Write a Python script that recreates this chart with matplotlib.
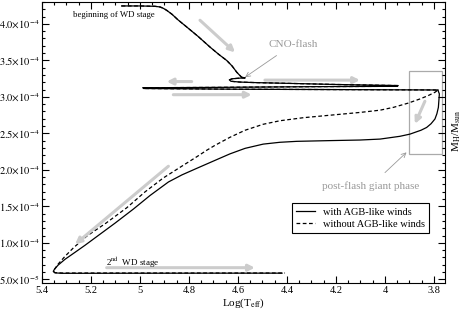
import matplotlib
matplotlib.use("Agg")
import matplotlib.pyplot as plt
from matplotlib.ticker import MultipleLocator, FuncFormatter
from matplotlib.patches import Rectangle
import numpy as np

plt.rcParams['font.family'] = ['Liberation Serif', 'DejaVu Serif']
plt.rcParams['mathtext.fontset'] = 'stix'

# common track: WD cooling start, CNO flash, back-and-forth band, up to giant vertex
flash_logT = [5.075, 5.00, 4.939, 4.918, 4.905, 4.891, 4.869, 4.845, 4.809, 4.763,
              4.714, 4.678, 4.646, 4.624, 4.605, 4.594, 4.585, 4.571, 4.592, 4.624,
              4.635, 4.629, 4.592, 4.531, 4.20, 3.946, 3.95, 4.30, 4.70, 4.988,
              4.985, 4.60, 4.20, 3.80, 3.784]
flash_mh = [4.246e-4, 4.246e-4, 4.241e-4, 4.232e-4, 4.214e-4, 4.186e-4, 4.131e-4,
            4.056e-4, 3.957e-4, 3.829e-4, 3.682e-4, 3.581e-4, 3.499e-4, 3.423e-4,
            3.338e-4, 3.299e-4, 3.269e-4, 3.261e-4, 3.257e-4, 3.248e-4, 3.233e-4,
            3.214e-4, 3.203e-4, 3.196e-4, 3.17e-4, 3.155e-4, 3.145e-4, 3.14e-4,
            3.13e-4, 3.125e-4, 3.115e-4, 3.105e-4, 3.10e-4, 3.095e-4, 3.093e-4]

# with AGB-like winds (after vertex)
wind_logT = [3.784, 3.778, 3.780, 3.782, 3.788, 3.796, 3.812, 3.830, 3.853, 3.871,
             3.898, 3.939, 4.020, 4.102, 4.224, 4.360, 4.429, 4.497, 4.571, 4.633,
             4.694, 4.769, 4.829, 4.884, 4.959, 5.027, 5.102, 5.163, 5.224, 5.265,
             5.306, 5.335, 5.349, 5.354, 5.347, 5.318, 5.0, 4.7, 4.42]
wind_mh = [3.093e-4, 3.041e-4, 2.948e-4, 2.856e-4, 2.770e-4, 2.697e-4, 2.632e-4,
           2.581e-4, 2.543e-4, 2.522e-4, 2.490e-4, 2.460e-4, 2.422e-4, 2.409e-4,
           2.401e-4, 2.391e-4, 2.378e-4, 2.353e-4, 2.295e-4, 2.219e-4, 2.130e-4,
           2.020e-4, 1.931e-4, 1.834e-4, 1.649e-4, 1.463e-4, 1.270e-4, 1.119e-4,
           9.68e-5, 8.71e-5, 7.75e-5, 6.93e-5, 6.38e-5, 6.10e-5, 5.89e-5, 5.83e-5,
           5.84e-5, 5.85e-5, 5.85e-5]

# without AGB-like winds (after vertex)
nowind_logT = [3.784, 3.796, 3.824, 3.857, 3.906, 3.966, 4.020, 4.102, 4.224, 4.333,
               4.429, 4.497, 4.571, 4.633, 4.694, 4.728, 4.769, 4.837, 4.905, 4.980,
               5.054, 5.139, 5.218, 5.272, 5.306, 5.335, 5.349, 5.354, 5.347, 5.318,
               5.0, 4.7, 4.408]
nowind_mh = [3.093e-4, 3.063e-4, 3.017e-4, 2.972e-4, 2.914e-4, 2.856e-4, 2.818e-4,
             2.787e-4, 2.749e-4, 2.715e-4, 2.673e-4, 2.625e-4, 2.543e-4, 2.446e-4,
             2.336e-4, 2.268e-4, 2.178e-4, 2.034e-4, 1.889e-4, 1.697e-4, 1.481e-4,
             1.270e-4, 1.091e-4, 9.31e-5, 8.16e-5, 7.06e-5, 6.38e-5, 6.10e-5,
             5.92e-5, 5.87e-5, 5.87e-5, 5.87e-5, 5.87e-5]

# gray direction arrows (start, end)
arrows = [((4.755, 4.05e-4), (4.612, 3.61e-4)),
          ((4.789, 3.21e-4), (4.891, 3.21e-4)),
          ((4.864, 3.03e-4), (4.544, 3.03e-4)),
          ((4.490, 3.23e-4), (4.102, 3.23e-4)),
          ((3.837, 2.94e-4), (3.878, 2.63e-4)),
          ((4.884, 2.05e-4), (5.265, 9.8e-5)),
          ((5.136, 6.6e-5), (4.531, 6.6e-5))]


def ytick_fmt(v, pos):
    if v <= 0:
        return ''
    e = int(np.floor(np.log10(v) + 1e-9))
    m = v / 10 ** e
    return r'$%.1f{\times}10^{%d}$' % (m, e)


fig = plt.figure(figsize=(4.63, 3.13), dpi=100)
ax = fig.add_axes([0.0907, 0.0958, 0.8704, 0.8978])

ax.plot(flash_logT, flash_mh, color='black', lw=0.9)
ax.plot(flash_logT + nowind_logT, flash_mh + nowind_mh, color='black', lw=0.9,
        ls=(0, (3, 2)), label='without AGB-like winds')
ax.plot(wind_logT, wind_mh, color='black', lw=0.9)
ax.plot([], [], color='black', lw=0.9, label='with AGB-like winds')

for (x0, y0), (x1, y1) in arrows:
    ax.annotate('', xy=(x1, y1), xytext=(x0, y0),
                arrowprops=dict(arrowstyle='-|>', color='#cccccc', lw=2.2,
                                mutation_scale=9, shrinkA=0, shrinkB=0))

ax.add_patch(Rectangle((3.766, 2.22e-4), 3.901 - 3.766, 3.35e-4 - 2.22e-4,
                       fill=False, edgecolor='#aaaaaa', lw=0.9))

ax.text(5.107, 4.12e-4, 'beginning of WD stage', fontsize=6.3, ha='center', va='center')
ax.annotate('CNO-flash', xy=(4.571, 3.27e-4), xytext=(4.376, 3.72e-4),
            fontsize=8, color='#999999', ha='center', va='center',
            arrowprops=dict(arrowstyle='->', color='#999999', lw=0.6,
                            shrinkA=5, shrinkB=0))
ax.annotate('post-flash giant phase', xy=(3.912, 2.24e-4), xytext=(4.058, 1.78e-4),
            fontsize=8, color='#999999', ha='center', va='center',
            arrowprops=dict(arrowstyle='->', color='#999999', lw=0.6,
                            shrinkA=6, shrinkB=0))
ax.text(5.139, 7.2e-5, r'2$^{\mathrm{nd}}$  WD stage', fontsize=6.5, ha='left', va='center')

ax.set_xlim(5.4, 3.755)
ax.set_ylim(4.5e-5, 4.3e-4)
ax.xaxis.set_major_locator(MultipleLocator(0.2))
ax.xaxis.set_minor_locator(MultipleLocator(0.05))
ax.xaxis.set_major_formatter(FuncFormatter(lambda v, p: ('%.1f' % v).rstrip('0').rstrip('.')))
ax.yaxis.set_major_locator(MultipleLocator(5e-5))
ax.yaxis.set_minor_locator(MultipleLocator(1e-5))
ax.yaxis.set_major_formatter(FuncFormatter(ytick_fmt))
ax.tick_params(which='both', direction='in', top=True, right=True, labelsize=7.5, pad=2)
ax.tick_params(which='major', length=5, width=0.8)
ax.tick_params(which='minor', length=2.5, width=0.8)

ax.set_xlabel(r'Log(T$_{\mathrm{eff}}$)', fontsize=8, labelpad=1)
fig.text(0.986, 0.58, r'M$_{\mathrm{H}}$/M$_{\mathrm{sun}}$', fontsize=8,
         rotation=90, ha='center', va='center')

handles, labels = ax.get_legend_handles_labels()
leg = ax.legend(handles[::-1], labels[::-1], loc='upper right', bbox_to_anchor=(0.961, 0.284),
                borderaxespad=0, fontsize=7.5, handlelength=1.8, fancybox=False,
                framealpha=1, edgecolor='black', borderpad=0.4, labelspacing=0.3)
leg.get_frame().set_linewidth(0.8)

fig.savefig('out.png', dpi=100)
